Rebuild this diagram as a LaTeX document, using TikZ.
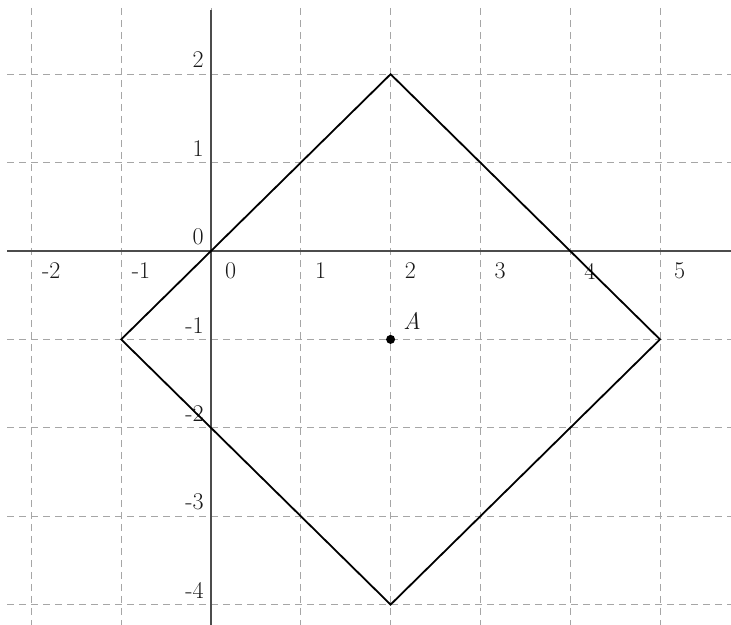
\documentclass[tikz,border=0pt]{standalone}
\usepackage{fontspec}
\begin{document}
\begin{tikzpicture}[x=89.8pt,y=88.4pt,
  gridline/.style={draw=black!35,line width=0.8pt,dash pattern=on 7pt off 5pt},
  axisline/.style={draw=black!70,line width=1.1pt},
  shapeline/.style={draw=black,line width=1.8pt,line join=miter},
  ticklabel/.style={font=\fontsize{24}{28}\selectfont,inner sep=0pt,text=black!90},
  dotstyle/.style={circle,fill=black,inner sep=0pt,minimum size=9pt}]
\useasboundingbox (-2.3497,-4.2308) rectangle (5.7907,2.8394);
% grid
\foreach \i in {-2,...,5} \draw[gridline] (\i,2.75) -- (\i,-4.2308);
\foreach \j in {-4,-3,-2,-1,1,2} \draw[gridline] (-2.27,\j) -- (5.7907,\j);
% axes
\draw[axisline] (-2.27,0) -- (5.7907,0);
\draw[axisline] (0,2.73) -- (0,-4.2308);
% tick labels
\foreach \i in {-2,...,5} \node[ticklabel] (xl\i) at (\i+0.22,-0.226) {\i};
\foreach \j in {-4,...,2} \node[ticklabel,anchor=east] (yl\j) at (-0.08,\j+0.16) {\j};
% square
\coordinate (T) at (2,2);
\coordinate (L) at (-1,-1);
\coordinate (B) at (2,-4);
\coordinate (R) at (5,-1);
\draw[shapeline] (T) -- (L) -- (B) -- (R) -- cycle;
% point A
\node[dotstyle] (A) at (2,-1) {};
\node[ticklabel,font=\fontsize{24}{28}\selectfont\itshape] (Alab) at (2.24,-0.79) {A};
\end{tikzpicture}
\end{document}
